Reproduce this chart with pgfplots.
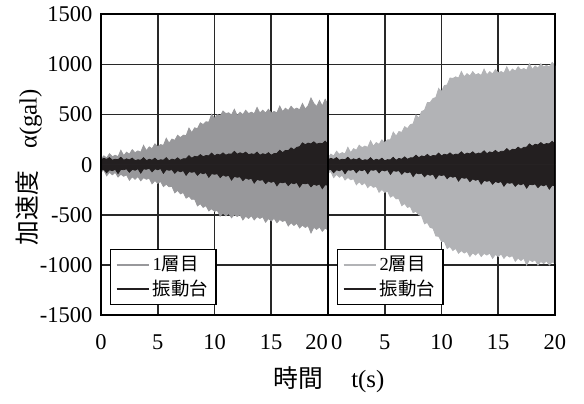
\documentclass[border=0pt]{standalone}
\usepackage{fontspec}
\setmainfont{Liberation Serif}
\newfontfamily\cjk{Noto Sans CJK JP}
\usepackage{pgfplots}
\usepackage{pgfplotstable}
\pgfplotsset{compat=1.18}

\definecolor{floorA}{RGB}{152,152,155}
\definecolor{floorB}{RGB}{178,179,182}
\definecolor{shake}{RGB}{35,31,32}
\definecolor{gridc}{RGB}{40,40,40}

% acceleration envelopes (gal): time, upper peak, lower peak
\pgfplotstableread{
t up lo
0 55 -70
0.25 89 -55
0.5 67 -110
0.75 111 -75
1 80 -100
1.25 95 -76
1.5 80 -123
1.75 145 -94
2 90 -115
2.25 125 -100
2.5 105 -155
2.75 150 -120
3 120 -145
3.25 138 -118
3.5 125 -160
3.75 193 -128
4 140 -145
4.25 178 -133
4.5 160 -190
4.75 208 -158
5 180 -185
5.25 201 -166
5.5 193 -218
5.75 264 -194
6 215 -220
6.25 256 -215
6.5 243 -280
6.75 294 -255
7 270 -290
7.25 295 -276
7.5 290 -333
7.75 365 -314
8 320 -345
8.25 368 -343
8.5 360 -410
8.75 418 -388
9 400 -425
9.25 428 -408
9.5 425 -460
9.75 503 -438
10 460 -465
10.25 500 -454
10.5 485 -513
10.75 535 -481
11 510 -510
11.25 518 -484
11.5 495 -528
11.75 553 -496
12 490 -515
12.25 523 -498
12.5 500 -550
12.75 543 -513
13 510 -535
13.25 524 -508
13.5 508 -550
13.75 571 -518
14 515 -535
14.25 543 -519
14.5 515 -573
14.75 553 -536
15 515 -560
15.25 531 -534
15.5 518 -578
15.75 584 -546
16 530 -565
16.25 563 -553
16.5 540 -610
16.75 583 -578
17 550 -605
17.25 564 -583
17.5 548 -630
17.75 611 -603
18 555 -625
18.25 589 -608
18.5 665 -680
18.75 611 -623
19 580 -645
19.25 640 -619
19.5 585 -663
19.75 653 -631
20 600 -650
}\floorone

\pgfplotstableread{
t up lo
0 50 -55
0.25 64 -45
0.5 53 -80
0.75 71 -50
1 45 -60
1.25 55 -44
1.5 50 -88
1.75 75 -46
2 45 -50
2.25 59 -40
2.5 48 -75
2.75 66 -45
3 40 -55
3.25 50 -39
3.5 45 -83
3.75 70 -41
4 40 -45
4.25 55 -35
4.5 45 -70
4.75 65 -40
5 40 -50
5.25 50 -38
5.5 45 -85
5.75 70 -48
6 40 -55
6.25 56 -48
6.5 48 -85
6.75 69 -58
7 45 -70
7.25 60 -58
7.5 60 -105
7.75 90 -68
8 65 -75
8.25 84 -68
8.5 78 -105
8.75 101 -78
9 80 -90
9.25 92 -78
9.5 89 -125
9.75 116 -88
10 88 -95
10.25 105 -89
10.5 97 -128
10.75 118 -101
11 95 -115
11.25 108 -104
11.5 105 -153
11.75 133 -116
12 105 -125
12.25 119 -119
12.5 108 -158
12.75 126 -131
13 100 -145
13.25 109 -134
13.5 103 -183
13.75 126 -146
14 95 -155
14.25 110 -149
14.5 100 -188
14.75 120 -161
15 95 -175
15.25 111 -163
15.5 113 -210
15.75 144 -173
16 120 -180
16.25 143 -171
16.5 140 -208
16.75 168 -179
17 150 -190
17.25 173 -176
17.5 180 -223
17.75 218 -184
18 200 -190
18.25 216 -183
18.5 208 -220
18.75 229 -193
19 205 -205
19.25 215 -191
19.5 210 -238
19.75 235 -199
20 205 -205
}\shakeone

\pgfplotstableread{
t up lo
0 70 -80
0.25 106 -69
0.5 88 -128
0.75 134 -96
1 105 -125
1.25 121 -104
1.5 108 -153
1.75 174 -126
2 120 -150
2.25 160 -140
2.5 145 -200
2.75 195 -170
3 170 -200
3.25 186 -179
3.5 173 -228
3.75 239 -201
4 185 -225
4.25 221 -215
4.5 203 -275
4.75 249 -245
5 220 -275
5.25 249 -264
5.5 248 -323
5.75 326 -306
6 285 -340
6.25 331 -339
6.5 323 -408
6.75 379 -386
7 360 -425
7.25 399 -416
7.5 408 -478
7.75 496 -464
8 465 -500
8.25 531 -509
8.5 543 -588
8.75 619 -576
9 620 -625
9.25 660 -633
9.5 670 -710
9.75 760 -713
10 730 -765
10.25 790 -765
10.5 795 -835
10.75 865 -815
11 860 -855
11.25 876 -834
11.5 863 -883
11.75 929 -856
12 875 -880
12.25 908 -863
12.5 885 -915
12.75 928 -878
13 895 -900
13.25 908 -873
13.5 890 -915
13.75 953 -883
14 895 -900
14.25 928 -881
14.5 905 -933
14.75 948 -894
15 915 -915
15.25 929 -889
15.5 913 -933
15.75 976 -901
16 920 -920
16.25 954 -906
16.5 933 -963
16.75 976 -929
17 945 -955
17.25 959 -930
17.5 943 -1000
17.75 1006 -945
18 950 -965
18.25 984 -948
18.5 963 -1000
18.75 1006 -963
19 975 -985
19.25 990 -958
19.5 975 -1000
19.75 1020 -968
20 985 -985
}\floortwo

\pgfplotstableread{
t up lo
0 50 -55
0.25 64 -45
0.5 53 -80
0.75 71 -50
1 45 -60
1.25 55 -45
1.5 50 -90
1.75 75 -50
2 45 -55
2.25 59 -45
2.5 48 -80
2.75 66 -50
3 40 -60
3.25 50 -45
3.5 45 -90
3.75 70 -50
4 40 -55
4.25 55 -46
4.5 45 -81
4.75 65 -52
5 40 -62
5.25 51 -49
5.5 48 -96
5.75 74 -58
6 45 -65
6.25 63 -58
6.5 55 -95
6.75 78 -68
7 55 -80
7.25 69 -69
7.5 68 -118
7.75 96 -81
8 70 -90
8.25 88 -83
8.5 80 -120
8.75 103 -93
9 80 -105
9.25 92 -92
9.5 89 -139
9.75 116 -100
10 88 -107
10.25 105 -100
10.5 97 -139
10.75 118 -112
11 95 -125
11.25 106 -114
11.5 103 -163
11.75 129 -126
12 100 -135
12.25 116 -129
12.5 108 -168
12.75 129 -141
13 105 -155
13.25 116 -144
13.5 113 -193
13.75 139 -156
14 110 -165
14.25 128 -157
14.5 120 -194
14.75 143 -166
15 120 -178
15.25 134 -166
15.5 133 -214
15.75 161 -177
16 135 -185
16.25 155 -178
16.5 150 -215
16.75 175 -188
17 155 -200
17.25 173 -186
17.5 175 -233
17.75 208 -194
18 185 -200
18.25 204 -191
18.5 198 -228
18.75 221 -199
19 200 -210
19.25 211 -196
19.5 208 -243
19.75 234 -204
20 205 -210
}\shaketwo

% grid lines, plotted first so the envelopes cover them
\newcommand\panelgrid{%
  \addplot[gridline] coordinates {(5,-1500) (5,1500)};
  \addplot[gridline] coordinates {(10,-1500) (10,1500)};
  \addplot[gridline] coordinates {(15,-1500) (15,1500)};
  \addplot[gridline] coordinates {(0,-1000) (20,-1000)};
  \addplot[gridline] coordinates {(0,-500) (20,-500)};
  \addplot[gridline] coordinates {(0,0) (20,0)};
  \addplot[gridline] coordinates {(0,500) (20,500)};
  \addplot[gridline] coordinates {(0,1000) (20,1000)};
}

\pgfplotsset{
  gridline/.style={draw=gridc, line width=0.8pt, mark=none, forget plot},
  panel/.style={
    scale only axis,
    width=113.5pt, height=150.5pt,
    xmin=0, xmax=20, ymin=-1500, ymax=1500,
    xtick={0,5,10,15,20},
    ytick={-1500,-1000,-500,0,500,1000,1500},
    major tick length=0pt,
    axis line style={line width=1pt},
    tick label style={font=\fontsize{11.25}{13}\selectfont},
    xticklabel style={yshift=-6pt},
    yticklabel style={xshift=-0.8pt},
    legend style={at={(0.04,0.033)}, anchor=south west, draw=black,
      line width=0.6pt, fill=white,
      font=\fontsize{9.2}{11}\selectfont,
      inner xsep=2.5pt, inner ysep=1.5pt,
      nodes={inner sep=1.6pt}},
    legend cell align=left,
    legend image code/.code={\draw[##1] (0pt,0pt) -- (16pt,0pt);},
  },
  % each envelope half is filled down to the zero line
  env/.style={draw=#1, line width=0.4pt, fill=#1, mark=none, forget plot},
}

\begin{document}
\begin{tikzpicture}

% first storey vs shaking table
\begin{axis}[panel, at={(50.5pt,44pt)}, anchor=south west,
  yticklabels={-1500,-1000,-500,0,500,1000,1500},
  xticklabels={0,5,10,15,\makebox[0pt][r]{20}}]
  \panelgrid
  \addplot[env=floorA] table[x=t, y=up] {\floorone} \closedcycle;
  \addplot[env=floorA] table[x=t, y=lo] {\floorone} \closedcycle;
  \addplot[env=shake] table[x=t, y=up] {\shakeone} \closedcycle;
  \addplot[env=shake] table[x=t, y=lo] {\shakeone} \closedcycle;
  \draw[line width=1pt] (rel axis cs:0,0) rectangle (rel axis cs:1,1);
  \addlegendimage{floorA, line width=0.9pt}
  \addlegendentry{1{\cjk 層目}}
  \addlegendimage{shake, line width=0.9pt}
  \addlegendentry{{\cjk 振動台}}
\end{axis}

% second storey vs shaking table
\begin{axis}[panel, at={(164pt,44pt)}, anchor=south west,
  yticklabels={},
  xticklabels={\makebox[0pt][l]{\hspace{1.5pt}0},5,10,15,20}]
  \panelgrid
  \addplot[env=floorB] table[x=t, y=up] {\floortwo} \closedcycle;
  \addplot[env=floorB] table[x=t, y=lo] {\floortwo} \closedcycle;
  \addplot[env=shake] table[x=t, y=up] {\shaketwo} \closedcycle;
  \addplot[env=shake] table[x=t, y=lo] {\shaketwo} \closedcycle;
  \draw[line width=1pt] (rel axis cs:0,0) rectangle (rel axis cs:1,1);
  \addlegendimage{floorB, line width=0.9pt}
  \addlegendentry{2{\cjk 層目}}
  \addlegendimage{shake, line width=0.9pt}
  \addlegendentry{{\cjk 振動台}}
\end{axis}

\node[rotate=90, font=\fontsize{12.4}{14}\selectfont] at (14.5pt,118pt)
  {{\cjk 加速度}\hspace{11pt}α(gal)};
\node[font=\fontsize{12.4}{14}\selectfont] at (164.5pt,12pt)
  {{\cjk 時間}\hspace{14pt}t(s)};
% page extent
\path (0,0) rectangle (292pt,200.5pt);
\end{tikzpicture}
\end{document}
